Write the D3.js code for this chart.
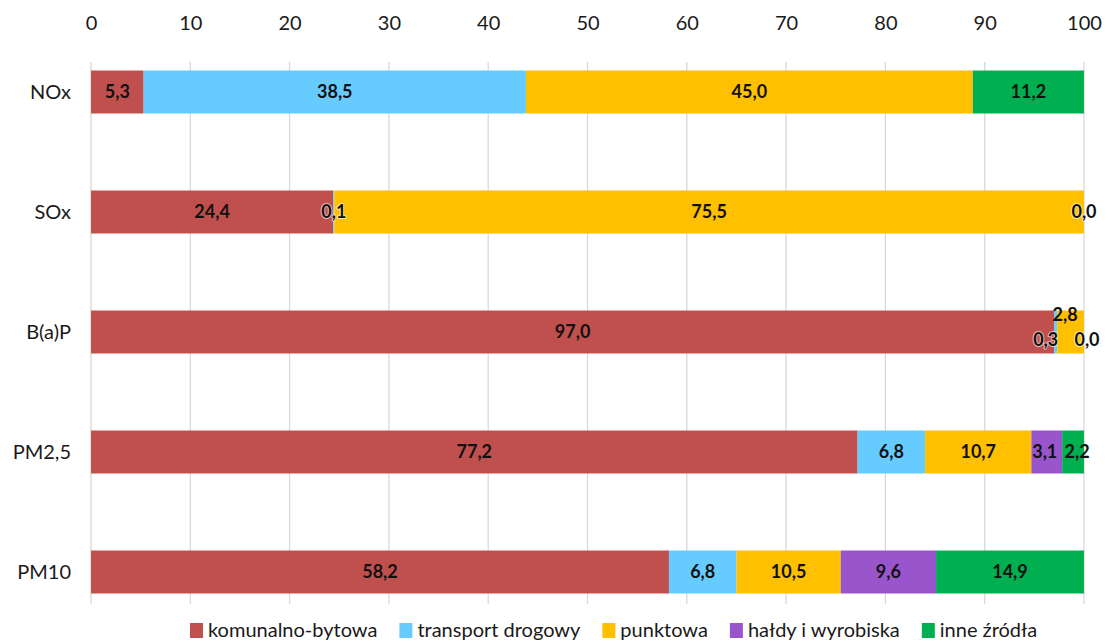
<!DOCTYPE html>
<html>
<head>
<meta charset="utf-8">
<script src="https://cdn.jsdelivr.net/npm/d3@7"></script>
<style>
  body { margin: 0; background: #fff; }
  svg text { font-family: Lato, "Open Sans", sans-serif; }
</style>
</head>
<body>
<div id="chart"></div>
<script>
const categories = ['NOx', 'SOx', 'B(a)P', 'PM2,5', 'PM10']
const sources = ['komunalno-bytowa', 'transport drogowy', 'punktowa', 'hałdy i wyrobiska', 'inne źródła']
const colors = ['#c0504d', '#66ccff', '#ffc000', '#9955cc', '#00b050']

// shares per source, in category order (null = no label shown)
const komunalno = [5.3, 24.4, 97.0, 77.2, 58.2]
const transport = [38.5, 0.1, 0.3, 6.8, 6.8]
const punktowa = [45.0, 75.5, 2.8, 10.7, 10.5]
const haldy = [null, null, null, 3.1, 9.6]
const inne = [11.2, 0.0, 0.0, 2.2, 14.9]
const xTicks = [0, 10, 20, 30, 40, 50, 60, 70, 80, 90, 100]

const series = [komunalno, transport, punktowa, haldy, inne]

const width = 1110, height = 644
const barH = 43

const svg = d3.select('#chart').append('svg')
  .attr('width', width)
  .attr('height', height)

const x = d3.scaleLinear().domain([0, 100]).range([91, 1084])
const y = d3.scalePoint().domain(categories).range([92, 572])

// gridlines
svg.append('g')
  .selectAll('line')
  .data(xTicks).enter()
  .append('line')
    .attr('x1', d => x(d)).attr('x2', d => x(d))
    .attr('y1', 62).attr('y2', 604)
    .attr('stroke', '#d9d9d9')
    .attr('stroke-width', 1.3)

// top axis
const axis = svg.append('g')
  .attr('transform', 'translate(0,30)')
  .call(d3.axisTop(x).tickValues(xTicks).tickSize(0).tickPadding(0))
axis.select('.domain').remove()
axis.selectAll('text')
  .attr('font-size', 20)
  .attr('fill', '#1a1a1a')
  .style('font-family', 'Lato, sans-serif')

// category labels
svg.append('g')
  .selectAll('text')
  .data(categories).enter()
  .append('text')
    .attr('x', 71)
    .attr('y', d => y(d))
    .attr('dy', '0.35em')
    .attr('text-anchor', 'end')
    .attr('font-size', 20)
    .attr('fill', '#1a1a1a')
    .text(d => d)

// stacked segments
const segs = []
categories.forEach((c, i) => {
  let acc = 0
  series.forEach((s, j) => {
    const v = s[i] == null ? 0 : s[i]
    segs.push({ cat: c, ci: i, si: j, x0: acc, x1: acc + v, v: s[i] })
    acc += v
  })
})

svg.append('g')
  .selectAll('rect')
  .data(segs.filter(d => d.v))
  .enter()
  .append('rect')
    .attr('x', d => x(d.x0))
    .attr('y', d => y(d.cat) - barH / 2)
    .attr('width', d => Math.max(0, Math.min(x(d.x1), x(100)) - x(d.x0)))
    .attr('height', barH)
    .attr('fill', d => colors[d.si])

// label nudges for the crowded bar ends
const nudge = { '2-1': [-10, 8], '2-2': [-6, -17], '2-4': [2, 8], '3-3': [-2, 0], '3-4': [4, 0] }

svg.append('g')
  .selectAll('text')
  .data(segs.filter(d => d.v != null))
  .enter()
  .append('text')
    .attr('x', d => x((d.x0 + d.x1) / 2) + (nudge[d.ci + '-' + d.si] || [0, 0])[0])
    .attr('y', d => y(d.cat) + (nudge[d.ci + '-' + d.si] || [0, 0])[1])
    .attr('dy', '0.35em')
    .attr('text-anchor', 'middle')
    .attr('font-size', 18)
    .attr('font-weight', 'bold')
    .attr('fill', '#111')
    .attr('stroke', d => d.v < 1 ? 'rgba(255,255,255,0.6)' : 'none')
    .attr('stroke-width', 2)
    .attr('paint-order', 'stroke')
    .text(d => d3.format('.1f')(d.v).replace('.', ','))

// legend
const legend = svg.append('g').attr('transform', 'translate(190,630)')
let lx = 0
sources.forEach((s, i) => {
  const g = legend.append('g').attr('transform', `translate(${lx},0)`)
  g.append('rect')
    .attr('x', 0).attr('y', -7)
    .attr('width', 13).attr('height', 15)
    .attr('fill', colors[i])
  const t = g.append('text')
    .attr('x', 18)
    .attr('dy', '0.35em')
    .attr('font-size', 20)
    .attr('fill', '#1a1a1a')
    .text(s)
  lx += 18 + t.node().getComputedTextLength() + 22
})
</script>
</body>
</html>
